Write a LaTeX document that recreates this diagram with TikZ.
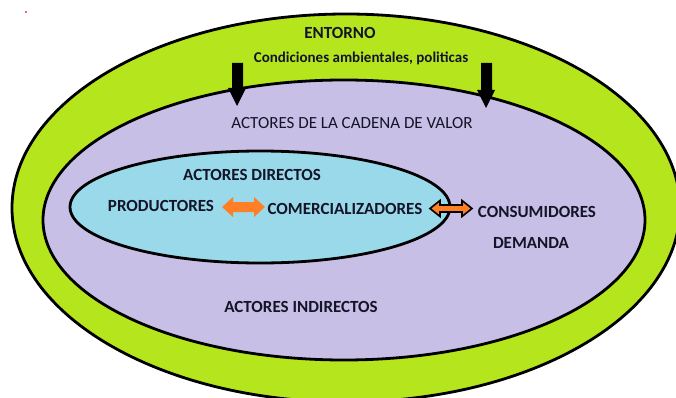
\documentclass[tikz,border=0pt]{standalone}
\usepackage{fontspec}
\setmainfont{Carlito}
\definecolor{lime}{HTML}{B5E61D}
\definecolor{lav}{HTML}{C8BFE7}
\definecolor{turq}{HTML}{99D9EA}
\definecolor{orng}{HTML}{FF7F27}
\definecolor{ink}{HTML}{141428}
\begin{document}
\begin{tikzpicture}[x=1pt,y=-1pt,
  lbl/.style={font=\fontsize{17}{19}\selectfont\bfseries, text=ink, inner sep=0pt},
  lblr/.style={font=\fontsize{17}{19}\selectfont, text=ink, inner sep=0pt},
  edge/.style={line width=2.8pt, draw=black}]
\useasboundingbox (0,0) rectangle (676,398);
\clip (0,0) rectangle (676,398);
\fill[white] (0,0) rectangle (676,398);
% outer ellipse
\draw[edge, fill=lime] (346,208) ellipse [x radius=334, y radius=194];
% middle ellipse
\draw[edge, fill=lav] (344,220) ellipse [x radius=301, y radius=140];
% inner ellipse
\draw[edge, fill=turq] (260,207) ellipse [x radius=190, y radius=56];
% tiny mark
\fill[red!60] (24.5,11) rectangle (26.5,13);
% black down arrows
\fill[black] (232,63) -- (243,63) -- (243,88) -- (246,88) -- (237,106) -- (228,88) -- (232,88) -- cycle;
\fill[black] (481,63) -- (492,63) -- (492,90) -- (495,90) -- (486,108) -- (477,90) -- (481,90) -- cycle;
% texts
\node[lbl] (entorno) at (340,33) {ENTORNO};
\node[lbl, font=\fontsize{15}{17}\selectfont\bfseries] (cond) at (361,58) {Condiciones ambientales, politicas};
\node[lblr] (cadena) at (352,123) {ACTORES DE LA CADENA DE VALOR};
\node[lbl] (directos) at (252,175) {ACTORES DIRECTOS};
\node[lbl] (prod) at (161,206) {PRODUCTORES};
\node[lbl] (com) at (345,209) {COMERCIALIZADORES};
\node[lbl] (cons) at (537,212) {CONSUMIDORES};
\node[lbl] (dem) at (531,243) {DEMANDA};
\node[lbl] (indir) at (301,307) {ACTORES INDIRECTOS};
% orange double arrows
\fill[orng] (222,207) -- (233,197) -- (233,202) -- (254,202) -- (254,197) -- (265,207) -- (254,217) -- (254,212) -- (233,212) -- (233,217) -- cycle;
\draw[orng, fill=orng, draw=black, line width=1.6pt, line join=miter] (430,208.5) -- (440,200.5) -- (440,205) -- (462,205) -- (462,200.5) -- (472,208.5) -- (462,216.5) -- (462,212) -- (440,212) -- (440,216.5) -- cycle;
\end{tikzpicture}
\end{document}
